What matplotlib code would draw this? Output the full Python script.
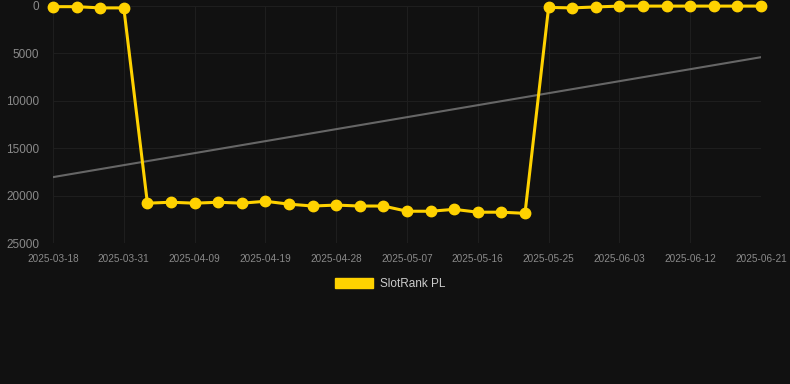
import matplotlib
matplotlib.use("Agg")
import matplotlib.pyplot as plt
from matplotlib.patches import Patch

plt.rcParams['font.family'] = ['Liberation Sans', 'DejaVu Sans']

# data
dates = ['2025-03-18', '2025-03-22', '2025-03-27', '2025-03-31', '2025-04-03',
         '2025-04-06', '2025-04-09', '2025-04-12', '2025-04-16', '2025-04-19',
         '2025-04-22', '2025-04-25', '2025-04-28', '2025-05-01', '2025-05-04',
         '2025-05-07', '2025-05-10', '2025-05-13', '2025-05-16', '2025-05-19',
         '2025-05-22', '2025-05-25', '2025-05-28', '2025-05-31', '2025-06-03',
         '2025-06-06', '2025-06-09', '2025-06-12', '2025-06-15', '2025-06-18',
         '2025-06-21']
rank = [70, 70, 200, 200, 20800, 20700, 20800, 20700, 20800, 20600,
        20900, 21100, 21000, 21100, 21100, 21650, 21650, 21450, 21750, 21750,
        21870, 150, 200, 100, 10, 10, 10, 10, 10, 10, 10]
trend_start = 18050
trend_end = 5400
series_name = 'SlotRank PL'

bg = '#111111'
gold = '#FFD200'

fig = plt.figure(figsize=(7.9, 3.84), dpi=100, facecolor=bg)
ax = fig.add_axes([53 / 790, 1 - 243 / 384, 708 / 790, 237 / 384])
ax.set_facecolor(bg)

x = list(range(len(dates)))
ax.plot([x[0], x[-1]], [trend_start, trend_end], color='#666666', lw=1.5, zorder=2)
ax.plot(x, rank, color=gold, lw=2.2, marker='o', markersize=7.5, zorder=3,
        clip_on=False)

ax.set_xlim(0, len(dates) - 1)
ax.set_ylim(25000, 0)
ax.set_yticks(range(0, 25001, 5000))
ax.set_xticks(x[::3])
ax.set_xticklabels(dates[::3])

for s in ax.spines.values():
    s.set_visible(False)
ax.grid(True, color='#1e1e1e', lw=0.8)
ax.set_axisbelow(True)
ax.tick_params(axis='y', length=0, pad=10, labelsize=8.5, labelcolor='#8a8a8a')
ax.tick_params(axis='x', length=0, pad=8, labelsize=7.2, labelcolor='#8a8a8a')

fig.legend(handles=[Patch(facecolor=gold, edgecolor=gold)], labels=[series_name],
           loc='center', bbox_to_anchor=(390 / 790, 1 - 284 / 384),
           frameon=False, fontsize=8.5, labelcolor='#cccccc',
           handlelength=3.2, handleheight=0.9, handletextpad=0.6)

fig.savefig('out.png', dpi=100, facecolor=bg)
